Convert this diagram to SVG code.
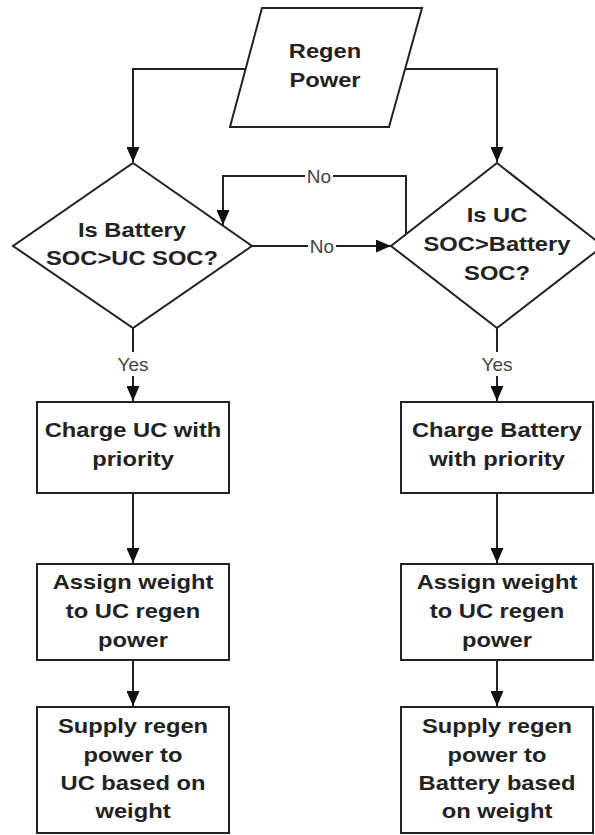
<svg xmlns="http://www.w3.org/2000/svg" width="595" height="835" viewBox="0 0 595 835">
<style>
.shape{fill:#fff;stroke:#222;stroke-width:2}
.t{font-family:"Liberation Sans",Arial,sans-serif;font-weight:bold;font-size:21px;fill:#222;text-anchor:middle}
.lbl{font-family:"Liberation Sans",Arial,sans-serif;font-size:19px;fill:#444;text-anchor:middle}
.c{fill:none;stroke:#222;stroke-width:2}
.bg{fill:#fff}
</style>
<defs>
<marker id="arr" markerUnits="userSpaceOnUse" markerWidth="16" markerHeight="13" refX="15" refY="6.5" orient="auto">
<path d="M0,0 L15,6.5 L0,13 z" fill="#111"/>
</marker>
</defs>
<rect width="595" height="835" fill="#fff"/>
<g id="connectors">
<path class="c" d="M245.6,69 H133 V162" marker-end="url(#arr)"/>
<path class="c" d="M405,69 H497 V162" marker-end="url(#arr)"/>
<path class="c" d="M252,246 H391" marker-end="url(#arr)"/>
<path class="c" d="M406,235 V176 H223 V225" marker-end="url(#arr)"/>
<path class="c" d="M133,328 V401" marker-end="url(#arr)"/>
<path class="c" d="M497,328 V401" marker-end="url(#arr)"/>
<path class="c" d="M133,493 V563" marker-end="url(#arr)"/>
<path class="c" d="M497,493 V563" marker-end="url(#arr)"/>
<path class="c" d="M133,660 V706" marker-end="url(#arr)"/>
<path class="c" d="M497,660 V706" marker-end="url(#arr)"/>
<rect class="bg" x="305" y="165" width="28" height="22"/>
<text class="lbl" x="319" y="183">No</text>
<rect class="bg" x="308" y="235" width="28" height="22"/>
<text class="lbl" x="322" y="253">No</text>
<rect class="bg" x="116" y="352" width="34" height="24"/>
<text class="lbl" x="133" y="371">Yes</text>
<rect class="bg" x="480" y="352" width="34" height="24"/>
<text class="lbl" x="497" y="371">Yes</text>
</g>
<g id="regen">
<polygon class="shape" points="262,8 422,8 389,127 230,127"/>
<text class="t" transform="translate(325,0) scale(1.13,1)" y="58">Regen</text>
<text class="t" transform="translate(325,0) scale(1.13,1)" y="87">Power</text>
</g>
<g id="dec-battery">
<polygon class="shape" points="133,163 252,246 133,328 13,246"/>
<text class="t" transform="translate(132,0) scale(1.13,1)" y="237">Is Battery</text>
<text class="t" transform="translate(132,0) scale(1.13,1)" y="265">SOC&gt;UC SOC?</text>
</g>
<g id="dec-uc">
<polygon class="shape" points="497,163 603,246 497,328 391,246"/>
<text class="t" transform="translate(497,0) scale(1.13,1)" y="222">Is UC</text>
<text class="t" transform="translate(497,0) scale(1.13,1)" y="251">SOC&gt;Battery</text>
<text class="t" transform="translate(497,0) scale(1.13,1)" y="280">SOC?</text>
</g>
<g id="charge-uc">
<rect class="shape" x="37" y="402" width="192" height="91"/>
<text class="t" transform="translate(133,0) scale(1.13,1)" y="437">Charge UC with</text>
<text class="t" transform="translate(133,0) scale(1.13,1)" y="466">priority</text>
</g>
<g id="charge-bat">
<rect class="shape" x="401" y="402" width="192" height="91"/>
<text class="t" transform="translate(497,0) scale(1.13,1)" y="437">Charge Battery</text>
<text class="t" transform="translate(497,0) scale(1.13,1)" y="466">with priority</text>
</g>
<g id="assign-left">
<rect class="shape" x="37" y="564" width="192" height="96"/>
<text class="t" transform="translate(133,0) scale(1.13,1)" y="589">Assign weight</text>
<text class="t" transform="translate(133,0) scale(1.13,1)" y="618">to UC regen</text>
<text class="t" transform="translate(133,0) scale(1.13,1)" y="647">power</text>
</g>
<g id="assign-right">
<rect class="shape" x="401" y="564" width="192" height="96"/>
<text class="t" transform="translate(497,0) scale(1.13,1)" y="589">Assign weight</text>
<text class="t" transform="translate(497,0) scale(1.13,1)" y="618">to UC regen</text>
<text class="t" transform="translate(497,0) scale(1.13,1)" y="647">power</text>
</g>
<g id="supply-left">
<rect class="shape" x="37" y="707" width="192" height="126"/>
<text class="t" transform="translate(133,0) scale(1.13,1)" y="733">Supply regen</text>
<text class="t" transform="translate(133,0) scale(1.13,1)" y="762">power to</text>
<text class="t" transform="translate(133,0) scale(1.13,1)" y="790">UC based on</text>
<text class="t" transform="translate(133,0) scale(1.13,1)" y="818">weight</text>
</g>
<g id="supply-right">
<rect class="shape" x="401" y="707" width="192" height="126"/>
<text class="t" transform="translate(497,0) scale(1.13,1)" y="733">Supply regen</text>
<text class="t" transform="translate(497,0) scale(1.13,1)" y="762">power to</text>
<text class="t" transform="translate(497,0) scale(1.13,1)" y="790">Battery based</text>
<text class="t" transform="translate(497,0) scale(1.13,1)" y="818">on weight</text>
</g>
</svg>
